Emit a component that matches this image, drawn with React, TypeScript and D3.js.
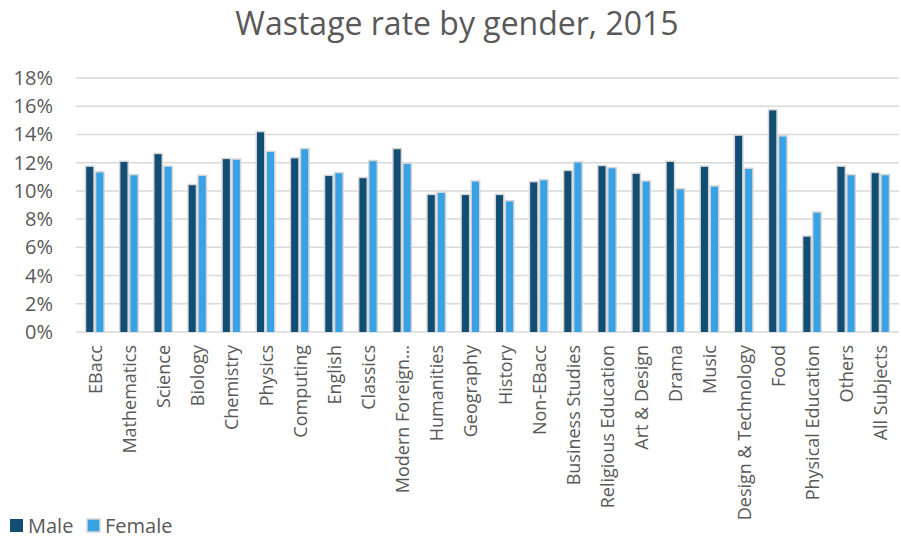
import React, { useEffect, useRef } from 'react';
import * as d3 from 'd3';

const subjects = [
  'EBacc', 'Mathematics', 'Science', 'Biology', 'Chemistry', 'Physics', 'Computing',
  'English', 'Classics', 'Modern Foreign…', 'Humanities', 'Geography', 'History',
  'Non-EBacc', 'Business Studies', 'Religious Education', 'Art & Design', 'Drama',
  'Music', 'Design & Technology', 'Food', 'Physical Education', 'Others', 'All Subjects',
];
const male = [11.7, 12.05, 12.6, 10.4, 12.25, 14.15, 12.3, 11.05, 10.9, 12.95, 9.7,
  9.7, 9.7, 10.6, 11.4, 11.75, 11.2, 12.05, 11.7, 13.9, 15.7, 6.75, 11.7, 11.25];
const female = [11.3, 11.1, 11.7, 11.05, 12.2, 12.75, 12.95, 11.25, 12.1, 11.9, 9.85,
  10.65, 9.25, 10.75, 12.0, 11.6, 10.65, 10.1, 10.3, 11.55, 13.85, 8.45, 11.1, 11.1];
const series = ['Male', 'Female'];
const yTicks = [0, 2, 4, 6, 8, 10, 12, 14, 16, 18];

const colors: Record<string, string> = { Male: '#124e74', Female: '#38a2e4' };
const font = '"Open Sans", sans-serif';

export default function App() {
  const ref = useRef<SVGSVGElement>(null);

  useEffect(() => {
    const svg = d3.select(ref.current);
    svg.selectAll('*').remove();

    const width = 901;
    const height = 551;
    const margin = { top: 78, right: 2, bottom: 219, left: 76 };

    const x = d3.scaleBand().domain(subjects)
      .range([margin.left, width - margin.right])
      .paddingInner(0.5).paddingOuter(0.3);
    const xs = d3.scaleBand().domain(series).range([0, x.bandwidth()]).paddingInner(0.3);
    const y = d3.scaleLinear().domain([0, 18]).range([height - margin.bottom, margin.top]);

    // title
    svg.append('text')
      .attr('x', 457).attr('y', 35)
      .attr('text-anchor', 'middle')
      .style('font-family', font).style('font-size', 32)
      .attr('fill', '#595959')
      .text('Wastage rate by gender, 2015');

    // gridlines
    svg.append('g').selectAll('line').data(yTicks).enter().append('line')
      .attr('x1', margin.left).attr('x2', width - margin.right)
      .attr('y1', d => y(d)).attr('y2', d => y(d))
      .attr('stroke', '#d9d9d9').attr('stroke-width', 1.5);

    // y labels
    svg.append('g').selectAll('text').data(yTicks).enter().append('text')
      .attr('x', 53).attr('y', d => y(d) + 7)
      .attr('text-anchor', 'end')
      .style('font-family', font).style('font-size', 20)
      .attr('fill', '#595959')
      .text(d => d + '%');

    const data = subjects.map((s, i) => ({ s, vals: [male[i], female[i]] }));

    const groups = svg.append('g').selectAll('g').data(data).enter().append('g')
      .attr('transform', d => `translate(${x(d.s)},0)`);

    groups.selectAll('rect.glow').data(d => d.vals.map((v, j) => ({ v, k: series[j] })))
      .enter().append('rect')
      .attr('x', d => (xs(d.k) as number) - 1.5)
      .attr('y', d => y(d.v) - 1.5)
      .attr('width', xs.bandwidth() + 3)
      .attr('height', d => y(0) - y(d.v) + 1.5)
      .attr('fill', '#d6d6d6');

    groups.selectAll('rect.bar').data(d => d.vals.map((v, j) => ({ v, k: series[j] })))
      .enter().append('rect')
      .attr('x', d => xs(d.k) as number)
      .attr('y', d => y(d.v))
      .attr('width', xs.bandwidth())
      .attr('height', d => y(0) - y(d.v))
      .attr('fill', d => colors[d.k]);

    // x labels
    svg.append('g').selectAll('text').data(subjects).enter().append('text')
      .attr('transform', d => `translate(${(x(d) as number) + x.bandwidth() / 2 + 7},${y(0) + 13}) rotate(-90)`)
      .attr('text-anchor', 'end')
      .style('font-family', font).style('font-size', 18)
      .attr('fill', '#595959')
      .text(d => d);

    // legend
    const legend = svg.append('g').attr('transform', 'translate(10,519)');
    const items = [{ k: 'Male', dx: 0 }, { k: 'Female', dx: 77 }];
    items.forEach(it => {
      legend.append('rect').attr('x', it.dx).attr('y', 0).attr('width', 13).attr('height', 13)
        .attr('fill', colors[it.k])
        .attr('stroke', it.k === 'Female' ? '#d6d6d6' : 'none').attr('stroke-width', 1.5);
      legend.append('text').attr('x', it.dx + 18).attr('y', 14)
        .style('font-family', font).style('font-size', 20)
        .attr('fill', '#595959')
        .text(it.k);
    });
  }, []);

  return (
    <svg ref={ref} width={901} height={551}
      style={{ position: 'absolute', left: 0, top: 0, background: '#fff' }} />
  );
}
